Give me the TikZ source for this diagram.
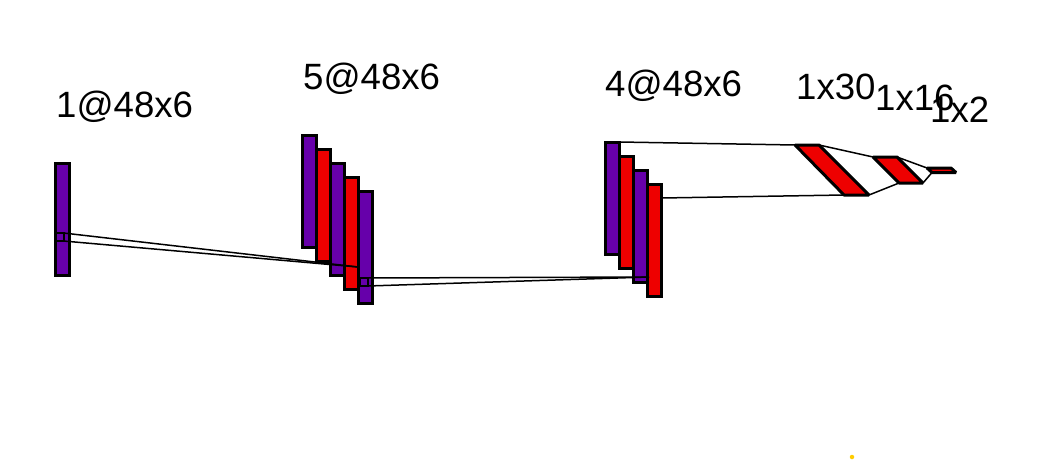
\documentclass[tikz,border=0pt]{standalone}
\usepackage{fontspec}
\setmainfont{Liberation Sans}
\definecolor{layerpurple}{HTML}{6600AA}
\definecolor{layerred}{HTML}{EE0000}
\definecolor{speckyellow}{HTML}{FFCC00}
\tikzset{
    purplelayer/.style={rectangle, draw, line width=3pt, fill=layerpurple, minimum width=14pt, minimum height=112pt, inner sep=0pt, outer sep=0pt},
    redlayer/.style={purplelayer, fill=layerred},
    flatlayer/.style={draw, line width=3pt, fill=layerred, line join=bevel},
    kernelbox/.style={rectangle, draw, line width=2pt, minimum width=8pt, minimum height=8pt, inner sep=0pt, outer sep=0pt},
    linkline/.style={draw, line width=1.5pt},
    sizelabel/.style={anchor=base west, inner sep=0pt, font=\fontsize{36.6}{40}\selectfont}
}
\begin{document}
\begin{tikzpicture}[x=1pt, y=-1pt]
        \useasboundingbox (0, 0) rectangle (1063, 461);

        \node[purplelayer] (inputlayer) at (62, 219) {};

        \node[purplelayer] (conva1) at (309, 191) {};
        \node[redlayer] (conva2) at (323, 205) {};
        \node[purplelayer] (conva3) at (337, 219) {};
        \node[redlayer] (conva4) at (351, 233) {};
        \node[purplelayer] (conva5) at (365, 247) {};

        \node[purplelayer] (convb1) at (612.5, 198) {};
        \node[redlayer] (convb2) at (626.5, 212) {};
        \node[purplelayer] (convb3) at (640.5, 226) {};
        \node[redlayer] (convb4) at (654.5, 240) {};

        \coordinate (densea1) at (795, 145);
        \coordinate (densea2) at (819, 145);
        \coordinate (densea3) at (869, 195);
        \coordinate (densea4) at (844, 195);
        \coordinate (denseb1) at (873, 157);
        \coordinate (denseb2) at (897, 157);
        \coordinate (denseb3) at (923, 183);
        \coordinate (denseb4) at (899, 183);
        \coordinate (densec1) at (927, 168);
        \coordinate (densec2) at (951, 168);
        \coordinate (densec3) at (956, 172.5);
        \coordinate (densec4) at (932, 172.5);

        \draw[flatlayer] (densea1) -- (densea2) -- (densea3) -- (densea4) -- cycle;
        \draw[flatlayer] (denseb1) -- (denseb2) -- (denseb3) -- (denseb4) -- cycle;
        \draw[flatlayer] (densec1) -- (densec2) -- (densec3) -- (densec4) -- cycle;

        \node[kernelbox] (kernela) at (59.5, 237) {};
        \node[kernelbox] (kernelb) at (363.5, 282) {};
        \coordinate (hita) at (358, 267);
        \coordinate (hitb) at (649, 277);
        \coordinate (exitb) at (661.5, 198);

        \draw[linkline] (kernela.north east) -- (hita);
        \draw[linkline] (kernela.south east) -- (hita);
        \draw[linkline] (kernelb.north east) -- (hitb);
        \draw[linkline] (kernelb.south east) -- (hitb);
        \draw[linkline] (convb1.north east) -- (densea1);
        \draw[linkline] (exitb) -- (densea4);
        \draw[linkline] (densea2) -- (denseb1);
        \draw[linkline] (densea3) -- (denseb4);
        \draw[linkline] (denseb2) -- (densec1);
        \draw[linkline] (denseb3) -- (densec4);

        \node[sizelabel] (labela) at (56, 117) {1@48x6};
        \node[sizelabel] (labelb) at (303, 89) {5@48x6};
        \node[sizelabel] (labelc) at (605, 96) {4@48x6};
        \node[sizelabel] (labeld) at (796, 99) {1x30};
        \node[sizelabel] (labele) at (875, 110) {1x16};
        \node[sizelabel] (labelf) at (930, 122) {1x2};

        \node[circle, fill=speckyellow, inner sep=0pt, minimum size=4.5pt] (speck) at (852, 457) {};
    \end{tikzpicture}
\end{document}
